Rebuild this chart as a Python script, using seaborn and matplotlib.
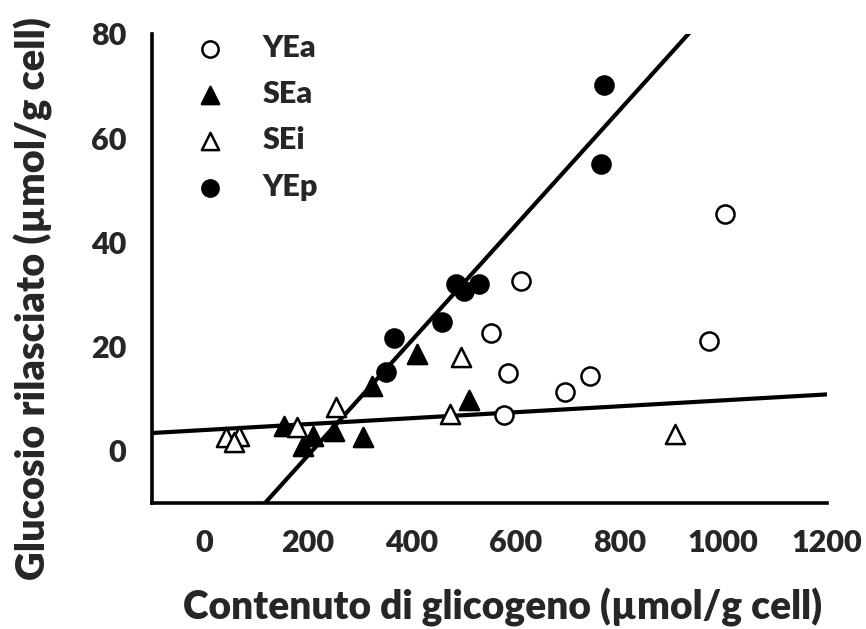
import numpy as np
import pandas as pd
import matplotlib
matplotlib.use("Agg")
import matplotlib.pyplot as plt
import seaborn as sns

# ---- data ----
yea_x = [1004, 610, 553, 585, 743, 696, 972, 578]
yea_y = [45.5, 32.6, 22.7, 14.9, 14.4, 11.3, 21.1, 6.9]

sea_x = [411, 324, 510, 155, 211, 190, 251, 306]
sea_y = [18.6, 12.5, 9.7, 4.8, 2.9, 1.0, 3.9, 2.6]

sei_x = [495, 473, 908, 254, 180, 42, 68, 58]
sei_y = [18.1, 7.0, 3.3, 8.4, 4.5, 2.6, 2.9, 1.7]

yep_x = [771, 765, 485, 501, 530, 459, 366, 350]
yep_y = [70.2, 55.1, 32.1, 30.6, 32.1, 24.8, 21.6, 15.1]

# fitted lines: (slope, intercept)
steep_fit = (0.1104, -23.0)
flat_fit = (0.0057, 4.0)

x_ticks = [0, 200, 400, 600, 800, 1000, 1200]
y_ticks = [0, 20, 40, 60, 80]

# ---- plot ----
sns.set_theme(style="white")
plt.rcParams["font.family"] = ["Lato", "DejaVu Sans"]
plt.rcParams["font.weight"] = "heavy"

fig = plt.figure(figsize=(8.66, 6.29), dpi=100)
ax = fig.add_axes([0.1755, 0.2003, 0.7795, 0.7457])

frames = {
    "YEa": (yea_x, yea_y, "o", "white", "black"),
    "SEa": (sea_x, sea_y, "^", "black", "black"),
    "SEi": (sei_x, sei_y, "^", "white", "black"),
    "YEp": (yep_x, yep_y, "o", "black", "black"),
}

xs = np.linspace(-100, 1200, 200)
for (m, b) in (steep_fit, flat_fit):
    sns.lineplot(x=xs, y=m * xs + b, color="black", lw=3, ax=ax, zorder=2)

for name, (x, y, mk, fc, ec) in frames.items():
    df = pd.DataFrame({"x": x, "y": y})
    sns.scatterplot(data=df, x="x", y="y", marker=mk, s=190 if mk == "^" else 170,
                    facecolor=fc, edgecolor=ec, linewidth=1.8, ax=ax,
                    label=name, zorder=3)

ax.set_xlim(-100, 1200)
ax.set_ylim(-10, 80)
ax.set_xticks(x_ticks)
ax.set_yticks(y_ticks)
ax.tick_params(axis="both", direction="out", length=6.5, width=1.6,
               labelsize=22, color="black", pad=12)
for lbl in ax.get_xticklabels() + ax.get_yticklabels():
    lbl.set_fontweight("heavy")

for s in ["top", "right"]:
    ax.spines[s].set_visible(False)
for s in ["left", "bottom"]:
    ax.spines[s].set_color("black")
    ax.spines[s].set_linewidth(2.6)

ax.set_xlabel("Contenuto di glicogeno (µmol/g cell)", fontsize=28,
              fontweight="heavy")
ax.set_ylabel("Glucosio rilasciato (µmol/g cell)", fontsize=28.5,
              fontweight="heavy")
# label positions (axes fraction), as in the reference
ax.xaxis.set_label_coords(0.519, -0.18)
ax.yaxis.set_label_coords(-0.146, 0.435)

leg = ax.legend(loc="upper left", bbox_to_anchor=(0.022, 1.027), frameon=False,
                prop={"size": 22, "weight": "heavy"}, handletextpad=0.72,
                labelspacing=0.6, markerscale=0.9, borderaxespad=0.0)

fig.savefig("out.png", dpi=100)
